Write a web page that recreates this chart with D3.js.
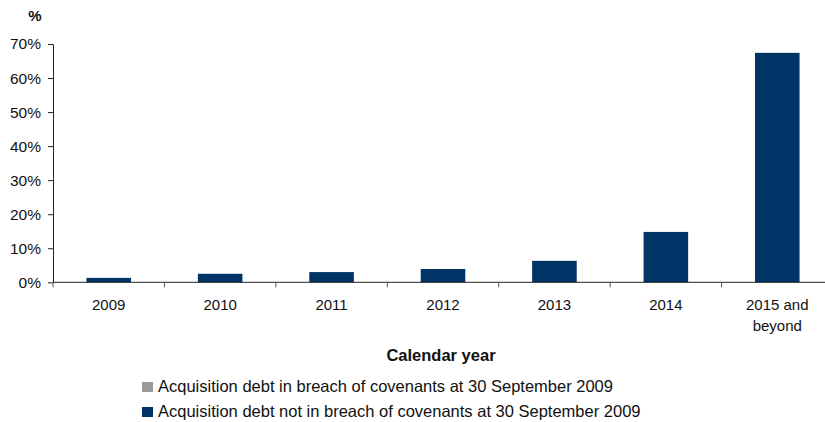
<!DOCTYPE html>
<html>
<head>
<meta charset="utf-8">
<script src="https://cdn.jsdelivr.net/npm/d3@7"></script>
<style>
  html, body { margin: 0; padding: 0; background: #fff; }
  svg { display: block; font-family: "Liberation Sans", Arial, sans-serif; }
</style>
</head>
<body>
<svg id="chart" width="825" height="422"></svg>
<script>
const categories = ["2009", "2010", "2011", "2012", "2013", "2014", "2015 and beyond"];
const notInBreach = [1.3, 2.5, 3.0, 3.9, 6.3, 14.8, 67.4];
const inBreach = [0, 0, 0, 0, 0, 0, 0];
const yTicks = [0, 10, 20, 30, 40, 50, 60, 70];
const seriesNames = [
  "Acquisition debt in breach of covenants at 30 September 2009",
  "Acquisition debt not in breach of covenants at 30 September 2009"
];
const seriesColors = ["#999999", "#003366"];

const svg = d3.select("#chart");
const mLeft = 53, mRight = 833, mTop = 44, mBottom = 282.3;

const x = d3.scaleBand().domain(categories).range([mLeft, mRight]).paddingInner(0.6).paddingOuter(0.3);
const xb = d3.scaleBand().domain(categories).range([mLeft, mRight]).padding(0);
const y = d3.scaleLinear().domain([0, 70]).range([mBottom, mTop]);

// bars (stacked: in breach at bottom, then not in breach)
categories.forEach((c, i) => {
  const b = inBreach[i], n = notInBreach[i];
  if (b > 0) {
    svg.append("rect").attr("x", x(c)).attr("width", x.bandwidth())
      .attr("y", y(b)).attr("height", y(0) - y(b)).attr("fill", seriesColors[0]);
  }
  svg.append("rect").attr("x", x(c)).attr("width", x.bandwidth())
    .attr("y", y(b + n)).attr("height", y(b) - y(b + n)).attr("fill", seriesColors[1]);
});

// y axis
const yAxis = d3.axisLeft(y).tickValues(yTicks).tickFormat(d => d + "%").tickSize(5).tickSizeOuter(0);
const gy = svg.append("g").attr("transform", `translate(${mLeft},0)`).call(yAxis);
gy.select(".domain").attr("stroke", "#222");
gy.selectAll(".tick line").attr("stroke", "#222");
gy.selectAll(".tick text").attr("font-size", 15.5).attr("fill", "#111").attr("x", -12)
  .attr("font-family", "'Liberation Sans', Arial, sans-serif");

// x axis
const gx = svg.append("g").attr("transform", `translate(0,${mBottom})`);
gx.append("line").attr("x1", mLeft).attr("x2", mRight).attr("stroke", "#222");
const boundaries = categories.map(c => xb(c)).concat([mRight]);
gx.selectAll("line.tk").data(boundaries).join("line").attr("class", "tk")
  .attr("x1", d => d).attr("x2", d => d).attr("y1", 0).attr("y2", 5).attr("stroke", "#555");
categories.forEach(c => {
  const words = c === "2015 and beyond" ? ["2015 and", "beyond"] : [c];
  const t = gx.append("text").attr("text-anchor", "middle").attr("font-size", 15).attr("fill", "#111")
    .attr("x", xb(c) + xb.bandwidth() / 2).attr("y", 28);
  words.forEach((w, k) => t.append("tspan").attr("x", xb(c) + xb.bandwidth() / 2).attr("dy", k === 0 ? 0 : 21).text(w));
});

// titles
svg.append("text").attr("x", 35).attr("y", 21).attr("text-anchor", "middle")
  .attr("font-weight", "bold").attr("font-size", 15).attr("fill", "#111").text("%");
svg.append("text").attr("x", 441).attr("y", 361).attr("text-anchor", "middle")
  .attr("font-weight", "bold").attr("font-size", 16.5).attr("fill", "#111").text("Calendar year");

// legend
const lg = svg.append("g");
seriesNames.forEach((s, i) => {
  const yy = 382 + i * 25;
  lg.append("rect").attr("x", 142).attr("y", yy).attr("width", 11).attr("height", 10).attr("fill", seriesColors[i]);
  lg.append("text").attr("x", 158).attr("y", yy + 10).attr("font-size", 16.5).attr("fill", "#111").text(s);
});
</script>
</body>
</html>
